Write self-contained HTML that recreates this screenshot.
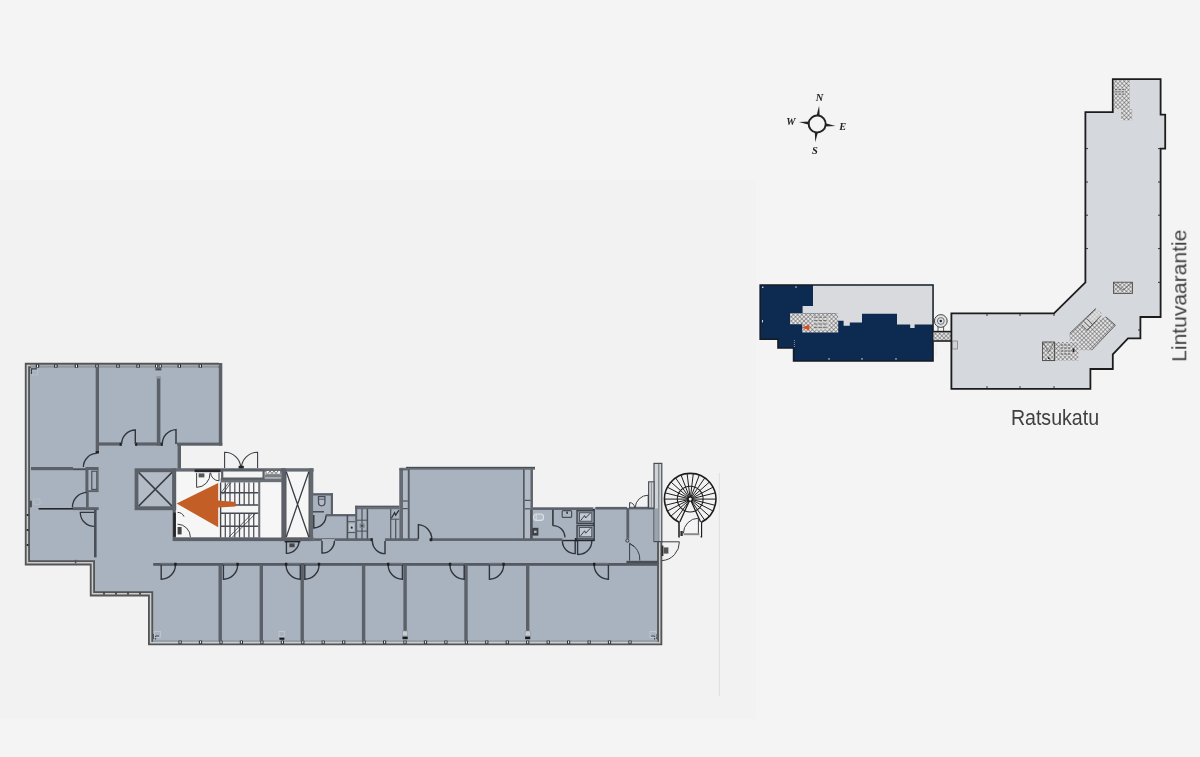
<!DOCTYPE html>
<html lang="fi"><head><meta charset="utf-8"><title>Pohjakuva – Ratsukatu / Lintuvaarantie</title>
<style>html,body{margin:0;padding:0;background:#f4f4f4;}body{width:1200px;height:757px;overflow:hidden}svg{display:block}</style>
</head><body>
<svg width="1200" height="757" viewBox="0 0 1200 757">
<defs>
<pattern id="hx" width="3.0" height="3.0" patternUnits="userSpaceOnUse" patternTransform="rotate(45)">
<rect width="3" height="3" fill="#e6e6e6"/><path d="M0,0H3M0,0V3" stroke="#4a4a4a" stroke-width="0.9"/></pattern>
<filter id="bt" x="-5%" y="-5%" width="110%" height="110%"><feGaussianBlur stdDeviation="0.4"/></filter>
<filter id="bl" x="-2%" y="-2%" width="104%" height="104%"><feGaussianBlur stdDeviation="0.65"/></filter>
</defs>
<rect x="0.0" y="0.0" width="1200.0" height="757.0" fill="#f4f4f4" />
<rect x="0.0" y="180.0" width="756.0" height="539.0" fill="#f2f2f2" />
<line x1="719.3" y1="473.0" x2="719.3" y2="696.0" stroke="#dedede" stroke-width="1" />
<g filter="url(#bl)">
<polygon points="25,363 222,363 222,445.4 181,445.4 181,468.5 313.5,468.5 313.5,493 332.8,493 332.8,514.5 355.5,514.5 355.5,506.3 399.6,506.3 399.6,467.4 533,467.4 533,507.5 654,507.5 654,463 661.8,463 661.8,645 148.7,645 148.7,595.5 90,595.5 90,565 25,565" fill="#a9b3bf"/>
<rect x="175.6" y="470.0" width="106.4" height="68.0" fill="#f6f6f6" />
<rect x="285.5" y="471.0" width="24.0" height="67.0" fill="#f6f6f6" />
<path d="M219,365.4L27.4,365.4L27.4,562.8L92.4,562.8L92.4,593.8L150.6,593.8L150.6,642.7L659.7,642.7L659.7,541.5" stroke="#555" stroke-width="5.2" fill="none" stroke-linejoin="miter" stroke-linecap="butt"/>
<path d="M219,365.4L27.4,365.4L27.4,562.8L92.4,562.8L92.4,593.8L150.6,593.8L150.6,642.7L659.7,642.7L659.7,541.5" stroke="#c9ccd0" stroke-width="1.5" fill="none" stroke-linejoin="miter"/>
<line x1="30.0" y1="365.8" x2="219.0" y2="365.8" stroke="#a4a9af" stroke-width="1.6" />
<line x1="153.0" y1="641.0" x2="657.6" y2="641.0" stroke="#98a0a9" stroke-width="1.9" />
<line x1="31.0" y1="367.2" x2="218.6" y2="367.2" stroke="#98a0a9" stroke-width="1.4" />
<rect x="35.8" y="364.4" width="3.4" height="3.2" fill="#222" />
<rect x="36.9" y="364.8" width="1.2" height="2.4" fill="#f0f0f0" />
<rect x="54.2" y="364.4" width="3.4" height="3.2" fill="#222" />
<rect x="55.3" y="364.8" width="1.2" height="2.4" fill="#f0f0f0" />
<rect x="74.7" y="364.4" width="3.4" height="3.2" fill="#222" />
<rect x="75.8" y="364.8" width="1.2" height="2.4" fill="#f0f0f0" />
<rect x="95.3" y="364.4" width="3.4" height="3.2" fill="#222" />
<rect x="96.4" y="364.8" width="1.2" height="2.4" fill="#f0f0f0" />
<rect x="116.3" y="364.4" width="3.4" height="3.2" fill="#222" />
<rect x="117.4" y="364.8" width="1.2" height="2.4" fill="#f0f0f0" />
<rect x="136.4" y="364.4" width="3.4" height="3.2" fill="#222" />
<rect x="137.5" y="364.8" width="1.2" height="2.4" fill="#f0f0f0" />
<rect x="177.6" y="364.4" width="3.4" height="3.2" fill="#222" />
<rect x="178.7" y="364.8" width="1.2" height="2.4" fill="#f0f0f0" />
<rect x="198.6" y="364.4" width="3.4" height="3.2" fill="#222" />
<rect x="199.7" y="364.8" width="1.2" height="2.4" fill="#f0f0f0" />
<rect x="155.1" y="364.4" width="3.0" height="3.2" fill="#222" />
<rect x="156.0" y="364.8" width="1.2" height="2.4" fill="#f0f0f0" />
<rect x="158.7" y="364.4" width="3.0" height="3.2" fill="#222" />
<rect x="159.6" y="364.8" width="1.2" height="2.4" fill="#f0f0f0" />
<rect x="178.5" y="640.6" width="3.2" height="3.2" fill="#2a2c30" />
<rect x="179.5" y="641.2" width="1.2" height="2.0" fill="#efefef" />
<rect x="198.9" y="640.6" width="3.2" height="3.2" fill="#2a2c30" />
<rect x="199.9" y="641.2" width="1.2" height="2.0" fill="#efefef" />
<rect x="219.4" y="640.6" width="3.2" height="3.2" fill="#2a2c30" />
<rect x="220.4" y="641.2" width="1.2" height="2.0" fill="#efefef" />
<rect x="239.8" y="640.6" width="3.2" height="3.2" fill="#2a2c30" />
<rect x="240.8" y="641.2" width="1.2" height="2.0" fill="#efefef" />
<rect x="260.3" y="640.6" width="3.2" height="3.2" fill="#2a2c30" />
<rect x="261.3" y="641.2" width="1.2" height="2.0" fill="#efefef" />
<rect x="280.8" y="640.6" width="3.2" height="3.2" fill="#2a2c30" />
<rect x="281.8" y="641.2" width="1.2" height="2.0" fill="#efefef" />
<rect x="301.2" y="640.6" width="3.2" height="3.2" fill="#2a2c30" />
<rect x="302.2" y="641.2" width="1.2" height="2.0" fill="#efefef" />
<rect x="321.6" y="640.6" width="3.2" height="3.2" fill="#2a2c30" />
<rect x="322.6" y="641.2" width="1.2" height="2.0" fill="#efefef" />
<rect x="342.1" y="640.6" width="3.2" height="3.2" fill="#2a2c30" />
<rect x="343.1" y="641.2" width="1.2" height="2.0" fill="#efefef" />
<rect x="362.5" y="640.6" width="3.2" height="3.2" fill="#2a2c30" />
<rect x="363.5" y="641.2" width="1.2" height="2.0" fill="#efefef" />
<rect x="383.0" y="640.6" width="3.2" height="3.2" fill="#2a2c30" />
<rect x="384.0" y="641.2" width="1.2" height="2.0" fill="#efefef" />
<rect x="403.4" y="640.6" width="3.2" height="3.2" fill="#2a2c30" />
<rect x="404.4" y="641.2" width="1.2" height="2.0" fill="#efefef" />
<rect x="423.9" y="640.6" width="3.2" height="3.2" fill="#2a2c30" />
<rect x="424.9" y="641.2" width="1.2" height="2.0" fill="#efefef" />
<rect x="444.3" y="640.6" width="3.2" height="3.2" fill="#2a2c30" />
<rect x="445.3" y="641.2" width="1.2" height="2.0" fill="#efefef" />
<rect x="464.8" y="640.6" width="3.2" height="3.2" fill="#2a2c30" />
<rect x="465.8" y="641.2" width="1.2" height="2.0" fill="#efefef" />
<rect x="485.2" y="640.6" width="3.2" height="3.2" fill="#2a2c30" />
<rect x="486.2" y="641.2" width="1.2" height="2.0" fill="#efefef" />
<rect x="505.7" y="640.6" width="3.2" height="3.2" fill="#2a2c30" />
<rect x="506.7" y="641.2" width="1.2" height="2.0" fill="#efefef" />
<rect x="526.1" y="640.6" width="3.2" height="3.2" fill="#2a2c30" />
<rect x="527.1" y="641.2" width="1.2" height="2.0" fill="#efefef" />
<rect x="546.6" y="640.6" width="3.2" height="3.2" fill="#2a2c30" />
<rect x="547.6" y="641.2" width="1.2" height="2.0" fill="#efefef" />
<rect x="567.0" y="640.6" width="3.2" height="3.2" fill="#2a2c30" />
<rect x="568.0" y="641.2" width="1.2" height="2.0" fill="#efefef" />
<rect x="587.5" y="640.6" width="3.2" height="3.2" fill="#2a2c30" />
<rect x="588.5" y="641.2" width="1.2" height="2.0" fill="#efefef" />
<rect x="607.9" y="640.6" width="3.2" height="3.2" fill="#2a2c30" />
<rect x="608.9" y="641.2" width="1.2" height="2.0" fill="#efefef" />
<rect x="628.4" y="640.6" width="3.2" height="3.2" fill="#2a2c30" />
<rect x="629.4" y="641.2" width="1.2" height="2.0" fill="#efefef" />
<rect x="103.2" y="592.6" width="1.6" height="2.0" fill="#333" />
<rect x="115.2" y="592.6" width="1.6" height="2.0" fill="#333" />
<rect x="127.2" y="592.6" width="1.6" height="2.0" fill="#333" />
<rect x="139.2" y="592.6" width="1.6" height="2.0" fill="#333" />
<rect x="26.6" y="514.0" width="2.0" height="2.0" fill="#333" />
<rect x="26.6" y="529.0" width="2.0" height="2.0" fill="#333" />
<rect x="26.6" y="544.0" width="2.0" height="2.0" fill="#333" />
<rect x="218.8" y="363.0" width="3.5" height="82.6" fill="#5b6068" />
<rect x="177.0" y="442.6" width="45.3" height="3.0" fill="#5b6068" />
<rect x="177.6" y="445.0" width="3.4" height="24.0" fill="#5b6068" />
<rect x="95.7" y="367.0" width="3.3" height="86.2" fill="#5b6068" />
<rect x="95.7" y="451.0" width="3.3" height="2.4" fill="#222" />
<rect x="97.0" y="442.4" width="24.6" height="3.2" fill="#5b6068" />
<rect x="119.6" y="442.8" width="2.2" height="3.0" fill="#222" />
<rect x="135.3" y="442.4" width="27.3" height="3.2" fill="#5b6068" />
<rect x="135.1" y="442.8" width="2.1" height="3.0" fill="#222" />
<rect x="160.6" y="442.8" width="2.2" height="3.0" fill="#222" />
<rect x="156.8" y="376.6" width="3.6" height="69.0" fill="#5b6068" />
<rect x="156.8" y="376.0" width="3.6" height="2.5" fill="#8f98a4" />
<rect x="155.4" y="368.2" width="6.0" height="2.2" fill="#4a4e55" />
<path d="M135.3,444.0L135.3,430.0A14.0,14.0 0 0 0 121.6,444.0" stroke="#30343a" stroke-width="1.4" fill="none" />
<path d="M176.0,444.0L176.0,429.6A14.4,14.4 0 0 0 162.3,444.0" stroke="#30343a" stroke-width="1.4" fill="none" />
<path d="M31.6,374V369H37" stroke="#3b3f45" stroke-width="1.4" fill="none" />
<rect x="32.6" y="370" width="5" height="5" fill="none" stroke="#c0c7cf" stroke-width="0.6"/>
<rect x="31.0" y="467.0" width="42.0" height="3.2" fill="#5b6068" />
<rect x="73.0" y="468.3" width="13.0" height="1.9" fill="#4a4f57" />
<rect x="85.4" y="467.0" width="13.2" height="25.1" fill="#5b6068" />
<rect x="88.4" y="470.0" width="9.0" height="20.2" fill="#a9b3bf" />
<rect x="91.8" y="471.2" width="5" height="18.2" fill="#a9b3bf" stroke="#474b52" stroke-width="1.1"/>
<path d="M97,453.4A13.6,13.6 0 0 0 83.4,467" stroke="#30343a" stroke-width="1.4" fill="none" />
<rect x="86.0" y="492.0" width="2.7" height="15.4" fill="#5b6068" />
<path d="M86.6,492.4A15,15 0 0 0 72.4,507.4" stroke="#30343a" stroke-width="1.4" fill="none" />
<rect x="38.5" y="508.0" width="35.5" height="1.6" fill="#26282c" />
<rect x="72.9" y="507.2" width="25.7" height="2.9" fill="#5b6068" />
<path d="M94,512.4H80.3A14,14 0 0 0 94.3,526.4" stroke="#30343a" stroke-width="1.3" fill="none" />
<rect x="94.0" y="510.0" width="2.6" height="47.4" fill="#4b5058" />
<rect x="29.9" y="500.7" width="2.0" height="6.6" fill="#4b5058" />
<rect x="34" y="499" width="6" height="5.4" fill="none" stroke="#bcc4cd" stroke-width="0.6"/>
<rect x="74.8" y="559.8" width="1.6" height="3.6" fill="#555" />
<rect x="134.6" y="468.3" width="41.6" height="41.9" fill="#5b6068" />
<rect x="138.4" y="472.2" width="33.8" height="34.1" fill="#b3bcc6" />
<path d="M138.6,472.4L172,506.1M172,472.4L138.6,506.1" stroke="#3b3f45" stroke-width="1.5" fill="none" />
<rect x="172.6" y="468.3" width="3.1" height="72.7" fill="#5b6068" />
<rect x="176.0" y="468.3" width="137.6" height="3.3" fill="#666b72" />
<rect x="173.0" y="537.3" width="140.6" height="3.8" fill="#5b6068" />
<rect x="281.2" y="468.3" width="4.6" height="72.7" fill="#5b6068" />
<rect x="309.2" y="468.3" width="3.9" height="72.7" fill="#62676e" />
<path d="M286.3,471.8L308.8,537M308.8,471.8L286.3,537" stroke="#3b3f45" stroke-width="1.3" fill="none" />
<line x1="286.0" y1="471.6" x2="286.0" y2="537.2" stroke="#333" stroke-width="0.8" />
<line x1="309.0" y1="471.6" x2="309.0" y2="537.2" stroke="#333" stroke-width="0.8" />
<rect x="220.6" y="478.4" width="61.4" height="4.0" fill="#6a6f76" />
<rect x="222.2" y="470.4" width="41.4" height="8.2" fill="#f4f4f4" stroke="#5a5f66" stroke-width="2.2"/>
<rect x="264.6" y="474.6" width="16.8" height="3.0" fill="#7a7f86" />
<rect x="266" y="470.6" width="14.6" height="3.6" fill="#f4f4f4" stroke="#555" stroke-width="0.7"/>
<path d="M268,473.6L270,471L272,473.6L274,471L276,473.6L278,471" stroke="#3b3f45" stroke-width="0.7" fill="none" />
<path d="M220.6,482.4V537.4M220.6,505H258.4M220.6,513.3H258.4M220.6,492.7H258.4M220.6,526.2H258.4" stroke="#44484e" stroke-width="1.4" fill="none" />
<rect x="258.2" y="481.0" width="2.2" height="56.4" fill="#6a6f76" />
<line x1="225.3" y1="482.4" x2="225.3" y2="505.0" stroke="#4a4e55" stroke-width="1.25" />
<line x1="225.3" y1="513.3" x2="225.3" y2="537.4" stroke="#4a4e55" stroke-width="1.25" />
<line x1="230.0" y1="482.4" x2="230.0" y2="505.0" stroke="#4a4e55" stroke-width="1.25" />
<line x1="230.0" y1="513.3" x2="230.0" y2="537.4" stroke="#4a4e55" stroke-width="1.25" />
<line x1="234.8" y1="482.4" x2="234.8" y2="505.0" stroke="#4a4e55" stroke-width="1.25" />
<line x1="234.8" y1="513.3" x2="234.8" y2="537.4" stroke="#4a4e55" stroke-width="1.25" />
<line x1="239.5" y1="482.4" x2="239.5" y2="505.0" stroke="#4a4e55" stroke-width="1.25" />
<line x1="239.5" y1="513.3" x2="239.5" y2="537.4" stroke="#4a4e55" stroke-width="1.25" />
<line x1="244.2" y1="482.4" x2="244.2" y2="505.0" stroke="#4a4e55" stroke-width="1.25" />
<line x1="244.2" y1="513.3" x2="244.2" y2="537.4" stroke="#4a4e55" stroke-width="1.25" />
<line x1="248.9" y1="482.4" x2="248.9" y2="505.0" stroke="#4a4e55" stroke-width="1.25" />
<line x1="248.9" y1="513.3" x2="248.9" y2="537.4" stroke="#4a4e55" stroke-width="1.25" />
<line x1="253.7" y1="482.4" x2="253.7" y2="505.0" stroke="#4a4e55" stroke-width="1.25" />
<line x1="253.7" y1="513.3" x2="253.7" y2="537.4" stroke="#4a4e55" stroke-width="1.25" />
<path d="M220.8,493L229,482.4M222.4,494.4L231,482.4" stroke="#3b3f45" stroke-width="0.8" fill="none" />
<path d="M229,537L252,513.6M232.5,537L255.5,513.6" stroke="#3b3f45" stroke-width="0.8" fill="none" />
<rect x="260.6" y="482.4" width="20.6" height="54.9" fill="#f6f6f6" />
<rect x="194.6" y="469.4" width="26.0" height="2.8" fill="#26282c" />
<path d="M196.6,473V487.4A13.6,13.6 0 0 0 210,473" stroke="#3b3f45" stroke-width="1.0" fill="none" />
<path d="M210.6,472.6A8.5,8.5 0 0 0 219,480.8V472.6" stroke="#3b3f45" stroke-width="1.0" fill="none" />
<rect x="198.6" y="473.4" width="5.8" height="4.0" fill="#555" />
<rect x="173.2" y="512.6" width="2.7" height="24.2" fill="#26282c" />
<path d="M177.6,512.4A7,7 0 0 1 184,516.6M177.6,524.2A13,13 0 0 1 190.4,537.2" stroke="#3b3f45" stroke-width="1.0" fill="none" />
<rect x="177.6" y="527.0" width="4.0" height="7.4" fill="#444" />
<polygon points="176.6,503.4 218.2,483 218.2,500.6 235.6,502 235.6,506.4 218.2,507.6 218.2,527.2" fill="#c35f25"/>
<path d="M224.6,468V452.2A16.2,16.2 0 0 1 240.8,468M257.6,468V452.2A16.2,16.2 0 0 0 241.4,468" stroke="#3b3f45" stroke-width="1.1" fill="none" />
<rect x="238.6" y="465.8" width="5.2" height="2.6" fill="#222" />
<rect x="313.0" y="493.3" width="20.0" height="2.2" fill="#5b6068" />
<rect x="330.8" y="493.3" width="2.2" height="22.7" fill="#5b6068" />
<rect x="325.6" y="514.1" width="30.4" height="2.2" fill="#5b6068" />
<line x1="313.0" y1="511.8" x2="324.0" y2="511.8" stroke="#3f444a" stroke-width="1.4" />
<path d="M318.5,496.6H324.9V502.6A3.2,3.2 0 0 1 318.5,502.6Z" stroke="#4a4e55" stroke-width="1.3" fill="#b3bcc7" />
<line x1="318.5" y1="499.2" x2="324.9" y2="499.2" stroke="#4a4e55" stroke-width="0.9" />
<path d="M313.8,515.0V528A12.4,12.4 0 0 0 326,515.8" stroke="#30343a" stroke-width="1.4" fill="none" />
<rect x="346.6" y="515.0" width="1.6" height="24.0" fill="#4b5058" />
<rect x="355.2" y="505.8" width="44.8" height="3.4" fill="#6a6f76" />
<rect x="355.2" y="505.8" width="44.8" height="1.0" fill="#4f545b" />
<rect x="355.2" y="505.8" width="2.0" height="33.8" fill="#5b6068" />
<line x1="362.0" y1="509.0" x2="362.0" y2="539.0" stroke="#4b5058" stroke-width="1.2" />
<line x1="367.4" y1="509.0" x2="367.4" y2="539.0" stroke="#4b5058" stroke-width="1.5" />
<line x1="357.0" y1="520.2" x2="367.4" y2="520.2" stroke="#4b5058" stroke-width="1.0" />
<line x1="357.0" y1="531.1" x2="367.4" y2="531.1" stroke="#4b5058" stroke-width="1.0" />
<rect x="359.6" y="523.6" width="5.0" height="4.2" fill="#7b838d" />
<rect x="361.2" y="524.8" width="1.6" height="1.8" fill="#2c2f34" />
<line x1="347.4" y1="521.7" x2="355.2" y2="521.7" stroke="#4b5058" stroke-width="1.0" />
<line x1="347.4" y1="532.6" x2="355.2" y2="532.6" stroke="#4b5058" stroke-width="1.0" />
<rect x="349" y="523.8" width="5" height="7" rx="1.6" fill="#bcc5ce"/>
<rect x="350.8" y="526.6" width="1.8" height="2.0" fill="#222" />
<line x1="390.7" y1="509.0" x2="390.7" y2="539.0" stroke="#4b5058" stroke-width="1.2" />
<line x1="395.7" y1="519.2" x2="395.7" y2="539.0" stroke="#4b5058" stroke-width="1.2" />
<line x1="390.7" y1="519.2" x2="399.6" y2="519.2" stroke="#4b5058" stroke-width="1.0" />
<path d="M391.4,518.2L394.6,512.6L395.6,515.2L399,510.2" stroke="#2c2f34" stroke-width="1.2" fill="none" />
<rect x="399.4" y="468.3" width="10.3" height="71.3" fill="#b1bac5" />
<rect x="399.4" y="468.3" width="3.6" height="71.3" fill="#666b72" />
<rect x="407.8" y="468.3" width="1.9" height="71.3" fill="#555a62" />
<rect x="399.4" y="468.3" width="10.3" height="2.0" fill="#5a5f66" />
<line x1="403.0" y1="501.0" x2="407.8" y2="501.0" stroke="#4d5259" stroke-width="1.2" />
<line x1="403.0" y1="508.6" x2="407.8" y2="508.6" stroke="#4d5259" stroke-width="1.2" />
<rect x="523.0" y="468.3" width="9.9" height="71.3" fill="#b1bac5" />
<rect x="523.0" y="468.3" width="1.7" height="71.3" fill="#555a62" />
<rect x="530.5" y="468.3" width="2.4" height="71.3" fill="#5e636a" />
<line x1="524.7" y1="500.4" x2="530.5" y2="500.4" stroke="#4d5259" stroke-width="1.2" />
<line x1="524.7" y1="508.8" x2="530.5" y2="508.8" stroke="#4d5259" stroke-width="1.2" />
<rect x="406.0" y="466.9" width="129.0" height="2.8" fill="#666b72" />
<rect x="406.0" y="466.9" width="129.0" height="1.1" fill="#4a4e55" />
<rect x="313.6" y="538.3" width="8.4" height="2.6" fill="#5b6068" />
<rect x="334.4" y="538.3" width="38.0" height="2.6" fill="#5b6068" />
<rect x="385.0" y="538.3" width="33.4" height="2.6" fill="#5b6068" />
<rect x="431.8" y="538.3" width="130.6" height="2.6" fill="#5b6068" />
<rect x="562.4" y="539.8" width="32.2" height="1.4" fill="#26282c" />
<rect x="574.8" y="538.0" width="2.8" height="3.4" fill="#26282c" />
<line x1="322.0" y1="538.6" x2="334.4" y2="538.6" stroke="#666b73" stroke-width="1.0" />
<path d="M322.0,541.0L322.0,553.0A12.0,12.0 0 0 0 334.4,541.0" stroke="#30343a" stroke-width="1.4" fill="none" />
<path d="M385.0,541.0L385.0,553.6A12.6,12.6 0 0 1 372.4,541.0" stroke="#30343a" stroke-width="1.4" fill="none" />
<path d="M418.4,539.0L418.4,524.6A14.4,14.4 0 0 1 431.8,539.0" stroke="#30343a" stroke-width="1.4" fill="none" />
<path d="M286.4,541.0L286.4,553.4A12.4,12.4 0 0 0 299.0,541.0" stroke="#30343a" stroke-width="1.4" fill="none" />
<rect x="289.4" y="543.4" width="5.2" height="3.8" fill="#444" />
<rect x="284.6" y="541.0" width="15.8" height="1.4" fill="#222" />
<path d="M575.2,541.0L575.2,553.6A12.6,12.6 0 0 1 562.4,541.0" stroke="#30343a" stroke-width="1.4" fill="none" />
<path d="M577.6,541.0L577.6,554.4A13.4,13.4 0 0 0 591.8,541.0" stroke="#30343a" stroke-width="1.4" fill="none" />
<rect x="429.6" y="538.2" width="2.6" height="3.0" fill="#222" />
<rect x="370.6" y="538.2" width="2.2" height="3.0" fill="#222" />
<rect x="533.0" y="507.4" width="60.0" height="2.5" fill="#5b6068" />
<rect x="595.4" y="506.9" width="31.6" height="2.6" fill="#5b6068" />
<rect x="592.9" y="509.0" width="1.8" height="32.0" fill="#26282c" />
<line x1="552.9" y1="509.8" x2="552.9" y2="525.8" stroke="#33373d" stroke-width="1.6" />
<path d="M552.9,525.6A11.8,11.8 0 0 1 564.9,537.6" stroke="#33373d" stroke-width="1.3" fill="none" />
<rect x="577" y="510.6" width="17.2" height="12.8" fill="#8e98a5" stroke="#3f444a" stroke-width="1.4"/>
<rect x="579.4" y="512.8000000000001" width="12.4" height="8.4" fill="#c3cad2" stroke="#3f444a" stroke-width="0.8"/>
<path d="M580.6,520.6L584.6,515.6L585.6,518.0L590.4,513.0" stroke="#3b3f45" stroke-width="1.0" fill="none" />
<rect x="577" y="525.4" width="17.2" height="13.6" fill="#8e98a5" stroke="#3f444a" stroke-width="1.4"/>
<rect x="579.4" y="527.6" width="12.4" height="9.2" fill="#c3cad2" stroke="#3f444a" stroke-width="0.8"/>
<path d="M580.6,535.8000000000001L584.6,530.8000000000001L585.6,533.2L590.4,528.2" stroke="#3b3f45" stroke-width="1.0" fill="none" />
<rect x="533.6" y="514" width="10" height="6.4" rx="3" fill="#b3bcc7" stroke="#dde1e6" stroke-width="1.1"/>
<line x1="536.2" y1="514.4" x2="536.2" y2="520.0" stroke="#dde1e6" stroke-width="0.9" />
<rect x="530.2" y="509.8" width="1.6" height="28.6" fill="#4a4e55" />
<rect x="532.2" y="527.8" width="6.2" height="7.8" fill="#3d4147" />
<rect x="534.0" y="530.6" width="2.6" height="2.4" fill="#aab3be" />
<rect x="562.2" y="510.6" width="9.4" height="6.8" rx="1" fill="#adb7c2" stroke="#4a4f56" stroke-width="1.2"/>
<rect x="566.4" y="511.6" width="1.4" height="2.2" fill="#222" />
<rect x="626.4" y="508.0" width="2.8" height="30.6" fill="#5b6068" />
<rect x="626.4" y="560.8" width="31.6" height="4.0" fill="#4a4e55" />
<rect x="629.0" y="506.8" width="25.4" height="2.6" fill="#5b6068" />
<circle cx="627.4" cy="540.6" r="1.6" fill="none" stroke="#333" stroke-width="0.9"/>
<path d="M629.6,543.4L634,546.6M629.6,543.4V560.6M629.6,543.4A17.2,17.2 0 0 1 639.8,560.6" stroke="#3b3f45" stroke-width="1.0" fill="none" />
<rect x="654.0" y="463.4" width="7.8" height="78.2" fill="#d0d4d8" stroke="#4a4e54" stroke-width="1.2"/>
<line x1="658.8" y1="464.0" x2="658.8" y2="541.0" stroke="#6a6f76" stroke-width="1.0" />
<rect x="654.6" y="508.4" width="3.8" height="32.6" fill="#9aa4b0" />
<rect x="648.6" y="481.8" width="5.4" height="26.2" fill="#d0d4d8" stroke="#4a4e54" stroke-width="1.1"/>
<line x1="651.4" y1="482.4" x2="651.4" y2="508.0" stroke="#7a7f86" stroke-width="0.8" />
<path d="M648.2,507.6V495.2A13,13 0 0 0 635.2,507.6" stroke="#3b3f45" stroke-width="1.0" fill="none" />
<path d="M629.6,507.6V502.6A5,5 0 0 1 634.6,507.6" stroke="#3b3f45" stroke-width="1.0" fill="none" />
<path d="M662,541.8H679.4A18.6,18.6 0 0 1 662,560.6" stroke="#3b3f45" stroke-width="1.0" fill="none" />
<rect x="661.4" y="545.6" width="2.0" height="10.4" fill="#333" />
<rect x="663.6" y="547.4" width="4.8" height="6.2" fill="#555" />
<rect x="153.2" y="563.0" width="504.8" height="2.8" fill="#555a62" />
<rect x="218.5" y="565.0" width="3.4" height="76.2" fill="#5b6068" />
<rect x="259.6" y="565.0" width="3.4" height="76.2" fill="#5b6068" />
<rect x="300.5" y="565.0" width="3.4" height="76.2" fill="#5b6068" />
<rect x="361.9" y="565.0" width="3.4" height="76.2" fill="#5b6068" />
<rect x="464.3" y="565.0" width="3.4" height="76.2" fill="#5b6068" />
<rect x="403.4" y="565.0" width="3.4" height="66.0" fill="#5b6068" />
<rect x="402.5" y="631" width="5.2" height="5" fill="#c6ccd3" stroke="#8a929c" stroke-width="0.6"/>
<rect x="402.5" y="636.6" width="5.2" height="2.6" fill="#1e1e1e" />
<rect x="526.0" y="565.0" width="3.4" height="66.0" fill="#5b6068" />
<rect x="525.1" y="631" width="5.2" height="5" fill="#c6ccd3" stroke="#8a929c" stroke-width="0.6"/>
<rect x="525.1" y="636.6" width="5.2" height="2.6" fill="#1e1e1e" />
<rect x="279.4" y="637.6" width="5.0" height="2.2" fill="#1e1e1e" />
<rect x="279" y="631.4" width="5.6" height="5" fill="none" stroke="#c6ccd3" stroke-width="0.7"/>
<path d="M161.2,565.0L161.2,579.2A14.2,14.2 0 0 0 175.4,565.0" stroke="#30343a" stroke-width="1.4" fill="none" />
<rect x="161.0" y="562.8" width="14.6" height="1.4" fill="#6a7079" />
<rect x="174.2" y="562.8" width="2.4" height="2.8" fill="#1e1e1e" />
<path d="M223.4,565.0L223.4,579.2A14.2,14.2 0 0 0 237.6,565.0" stroke="#30343a" stroke-width="1.4" fill="none" />
<rect x="223.2" y="562.8" width="14.6" height="1.4" fill="#6a7079" />
<rect x="236.4" y="562.8" width="2.4" height="2.8" fill="#1e1e1e" />
<path d="M300.3,565.0L300.3,579.2A14.2,14.2 0 0 1 286.1,565.0" stroke="#30343a" stroke-width="1.4" fill="none" />
<rect x="285.9" y="562.8" width="14.6" height="1.4" fill="#6a7079" />
<rect x="284.9" y="562.8" width="2.4" height="2.8" fill="#1e1e1e" />
<path d="M304.8,565.0L304.8,579.2A14.2,14.2 0 0 0 319.0,565.0" stroke="#30343a" stroke-width="1.4" fill="none" />
<rect x="304.6" y="562.8" width="14.6" height="1.4" fill="#6a7079" />
<rect x="317.8" y="562.8" width="2.4" height="2.8" fill="#1e1e1e" />
<path d="M402.4,565.0L402.4,579.2A14.2,14.2 0 0 1 388.2,565.0" stroke="#30343a" stroke-width="1.4" fill="none" />
<rect x="388.0" y="562.8" width="14.6" height="1.4" fill="#6a7079" />
<rect x="387.0" y="562.8" width="2.4" height="2.8" fill="#1e1e1e" />
<path d="M464.2,565.0L464.2,579.2A14.2,14.2 0 0 1 450.0,565.0" stroke="#30343a" stroke-width="1.4" fill="none" />
<rect x="449.8" y="562.8" width="14.6" height="1.4" fill="#6a7079" />
<rect x="448.8" y="562.8" width="2.4" height="2.8" fill="#1e1e1e" />
<path d="M489.4,565.0L489.4,579.2A14.2,14.2 0 0 0 503.6,565.0" stroke="#30343a" stroke-width="1.4" fill="none" />
<rect x="489.2" y="562.8" width="14.6" height="1.4" fill="#6a7079" />
<rect x="502.4" y="562.8" width="2.4" height="2.8" fill="#1e1e1e" />
<path d="M608.4,565.0L608.4,579.2A14.2,14.2 0 0 1 594.2,565.0" stroke="#30343a" stroke-width="1.4" fill="none" />
<rect x="594.0" y="562.8" width="14.6" height="1.4" fill="#6a7079" />
<rect x="593.0" y="562.8" width="2.4" height="2.8" fill="#1e1e1e" />
<path d="M153.6,639V634M155.6,639.6V636H159" stroke="#3b3f45" stroke-width="0.9" fill="none" />
<path d="M656.4,639V634M654.6,639.6V636H651" stroke="#3b3f45" stroke-width="0.9" fill="none" />
<rect x="154.6" y="631.4" width="6" height="6" fill="none" stroke="#c6ccd3" stroke-width="0.7"/>
<rect x="650" y="631.4" width="6" height="6" fill="none" stroke="#c6ccd3" stroke-width="0.7"/>
<path d="M701.4,522.2A25.7,25.7 0 1 0 679.0,522.2V537.6M701.4,522.2V537.6" stroke="#1e1e1e" stroke-width="1.55" fill="none" />
<circle cx="690.2" cy="499.1" r="12.9" fill="none" stroke="#1e1e1e" stroke-width="1.1"/>
<line x1="690.2" y1="499.1" x2="715.9" y2="499.1" stroke="#1e1e1e" stroke-width="1.0" />
<line x1="690.2" y1="499.1" x2="715.2" y2="505.3" stroke="#1e1e1e" stroke-width="1.0" />
<line x1="690.2" y1="499.1" x2="713.0" y2="511.0" stroke="#1e1e1e" stroke-width="1.0" />
<line x1="690.2" y1="499.1" x2="709.4" y2="516.1" stroke="#1e1e1e" stroke-width="1.0" />
<line x1="690.2" y1="499.1" x2="704.8" y2="520.3" stroke="#1e1e1e" stroke-width="1.0" />
<line x1="690.2" y1="499.1" x2="675.6" y2="520.3" stroke="#1e1e1e" stroke-width="1.0" />
<line x1="690.2" y1="499.1" x2="671.0" y2="516.1" stroke="#1e1e1e" stroke-width="1.0" />
<line x1="690.2" y1="499.1" x2="667.4" y2="511.0" stroke="#1e1e1e" stroke-width="1.0" />
<line x1="690.2" y1="499.1" x2="665.2" y2="505.3" stroke="#1e1e1e" stroke-width="1.0" />
<line x1="690.2" y1="499.1" x2="664.5" y2="499.1" stroke="#1e1e1e" stroke-width="1.0" />
<line x1="690.2" y1="499.1" x2="665.2" y2="492.9" stroke="#1e1e1e" stroke-width="1.0" />
<line x1="690.2" y1="499.1" x2="667.4" y2="487.2" stroke="#1e1e1e" stroke-width="1.0" />
<line x1="690.2" y1="499.1" x2="671.0" y2="482.1" stroke="#1e1e1e" stroke-width="1.0" />
<line x1="690.2" y1="499.1" x2="675.6" y2="477.9" stroke="#1e1e1e" stroke-width="1.0" />
<line x1="690.2" y1="499.1" x2="681.1" y2="475.1" stroke="#1e1e1e" stroke-width="1.0" />
<line x1="690.2" y1="499.1" x2="687.1" y2="473.6" stroke="#1e1e1e" stroke-width="1.0" />
<line x1="690.2" y1="499.1" x2="693.3" y2="473.6" stroke="#1e1e1e" stroke-width="1.0" />
<line x1="690.2" y1="499.1" x2="699.3" y2="475.1" stroke="#1e1e1e" stroke-width="1.0" />
<line x1="690.2" y1="499.1" x2="704.8" y2="477.9" stroke="#1e1e1e" stroke-width="1.0" />
<line x1="690.2" y1="499.1" x2="709.4" y2="482.1" stroke="#1e1e1e" stroke-width="1.0" />
<line x1="690.2" y1="499.1" x2="713.0" y2="487.2" stroke="#1e1e1e" stroke-width="1.0" />
<line x1="690.2" y1="499.1" x2="715.2" y2="492.9" stroke="#1e1e1e" stroke-width="1.0" />
<rect x="680.0" y="517.6" width="21.0" height="18.4" fill="#f4f4f4" />
<path d="M690.2,499.1L679.8,522M690.2,499.1L700.6,522" stroke="#1e1e1e" stroke-width="1.3" fill="none" />
<circle cx="690.2" cy="499.1" r="2.1" fill="#f3f3f3" stroke="#111" stroke-width="1.1"/>
<path d="M683.4,533.4A15.2,15.2 0 0 1 698.4,518.2V533.6" stroke="#3b3f45" stroke-width="1.0" fill="none" />
<rect x="683.6" y="533.2" width="15.8" height="2.0" fill="#8a8a8a" />
<rect x="680.4" y="531.0" width="2.4" height="5.0" fill="#333" />
<polygon points="760.2,285 933,285 933,361 793.6,361 793.6,348 778,348 778,339.2 760.2,339.2" fill="#0f2c51" stroke="#141a24" stroke-width="1.6"/>
<polygon points="813,285.8 932.3,285.8 932.3,324.4 914.6,324.4 914.6,328 910.2,328 910.2,324.4 897,324.4 897,313.8 862,313.8 862,322.6 849.8,322.6 849.8,325.8 843.6,325.8 843.6,320.8 836,320.8 836,313 802.6,313 802.6,306 813,306" fill="#d8dadd"/>
<polygon points="790,313.2 838.2,313.2 838.2,332.6 802.2,332.6 802.2,324.2 790,324.2" fill="url(#hx)"/>
<rect x="813.0" y="316.0" width="16.0" height="14.0" fill="#d9d9d9" opacity="0.55"/>
<line x1="814.0" y1="317.2" x2="828.0" y2="317.2" stroke="#444" stroke-width="0.7" stroke-dasharray="3.4,1.2"/>
<line x1="814.0" y1="320.6" x2="828.0" y2="320.6" stroke="#444" stroke-width="0.7" stroke-dasharray="3.4,1.2"/>
<line x1="814.0" y1="324.0" x2="828.0" y2="324.0" stroke="#444" stroke-width="0.7" stroke-dasharray="3.4,1.2"/>
<line x1="814.0" y1="327.4" x2="828.0" y2="327.4" stroke="#444" stroke-width="0.7" stroke-dasharray="3.4,1.2"/>
<polygon points="802.2,327.6 809.2,324.6 809.2,330.6" fill="#e2481c"/>
<rect x="795.5" y="286.2" width="1.0" height="1.8" fill="#cfd6e0" />
<rect x="828.5" y="286.2" width="1.0" height="1.8" fill="#cfd6e0" />
<rect x="861.5" y="286.2" width="1.0" height="1.8" fill="#cfd6e0" />
<rect x="895.5" y="286.2" width="1.0" height="1.8" fill="#cfd6e0" />
<rect x="828.5" y="358.0" width="1.0" height="1.8" fill="#cfd6e0" />
<rect x="861.5" y="358.0" width="1.0" height="1.8" fill="#cfd6e0" />
<rect x="895.5" y="358.0" width="1.0" height="1.8" fill="#cfd6e0" />
<rect x="762.0" y="320.0" width="1.0" height="2.4" fill="#cfd6e0" />
<rect x="762.0" y="286.6" width="1.4" height="1.4" fill="#cfd6e0" />
<line x1="794.4" y1="340.0" x2="794.4" y2="348.0" stroke="#cfd6e0" stroke-width="0.6" stroke-dasharray="1,1"/>
<rect x="933.6" y="332.4" width="17.4" height="8.0" fill="url(#hx)" />
<line x1="933.6" y1="331.6" x2="951.6" y2="331.6" stroke="#1a1a1a" stroke-width="1.6" />
<line x1="933.6" y1="341.0" x2="951.6" y2="341.0" stroke="#1a1a1a" stroke-width="1.6" />
<circle cx="940.8" cy="321" r="6.4" fill="#dfe1e3" stroke="#333" stroke-width="0.9"/>
<circle cx="940.8" cy="321" r="3.4" fill="none" stroke="#444" stroke-width="0.7"/>
<circle cx="940.8" cy="321" r="1.2" fill="#1a2a44"/>
<path d="M938,326.6V331M943.6,326.6V331" stroke="#333" stroke-width="0.8" fill="none" />
<line x1="936.0" y1="345.0" x2="936.0" y2="357.0" stroke="#d9dbdd" stroke-width="0.8" stroke-dasharray="1,1.4"/>
<polygon points="951.4,388.8 951.4,313.4 1054,313.4 1085.4,282.4 1085.4,112.2 1112.8,112.2 1112.8,79.2 1160.6,79.2 1160.6,114.6 1165.2,114.6 1165.2,148.6 1160.6,148.6 1160.6,317 1140.4,317 1140.4,338.4 1128,338.4 1112.8,354.4 1112.8,369 1090.4,369 1090.4,388.8" fill="#d5d8dc" stroke="#1c1c1c" stroke-width="1.8" stroke-linejoin="miter"/>
<line x1="987.0" y1="313.4" x2="987.0" y2="316.0" stroke="#222" stroke-width="0.9" />
<line x1="987.0" y1="388.8" x2="987.0" y2="386.2" stroke="#222" stroke-width="0.9" />
<line x1="1020.0" y1="313.4" x2="1020.0" y2="316.0" stroke="#222" stroke-width="0.9" />
<line x1="1020.0" y1="388.8" x2="1020.0" y2="386.2" stroke="#222" stroke-width="0.9" />
<line x1="1054.0" y1="313.4" x2="1054.0" y2="316.0" stroke="#222" stroke-width="0.9" />
<line x1="1054.0" y1="388.8" x2="1054.0" y2="386.2" stroke="#222" stroke-width="0.9" />
<line x1="1085.4" y1="148.6" x2="1088.0" y2="148.6" stroke="#222" stroke-width="0.9" />
<line x1="1160.6" y1="148.6" x2="1158.0" y2="148.6" stroke="#222" stroke-width="0.9" />
<line x1="1085.4" y1="182.0" x2="1088.0" y2="182.0" stroke="#222" stroke-width="0.9" />
<line x1="1160.6" y1="182.0" x2="1158.0" y2="182.0" stroke="#222" stroke-width="0.9" />
<line x1="1085.4" y1="215.2" x2="1088.0" y2="215.2" stroke="#222" stroke-width="0.9" />
<line x1="1160.6" y1="215.2" x2="1158.0" y2="215.2" stroke="#222" stroke-width="0.9" />
<line x1="1085.4" y1="248.6" x2="1088.0" y2="248.6" stroke="#222" stroke-width="0.9" />
<line x1="1160.6" y1="248.6" x2="1158.0" y2="248.6" stroke="#222" stroke-width="0.9" />
<line x1="1160.6" y1="282.4" x2="1158.0" y2="282.4" stroke="#222" stroke-width="0.9" />
<line x1="1140.4" y1="330.0" x2="1138.0" y2="330.0" stroke="#222" stroke-width="0.9" />
<rect x="952.4" y="341" width="5" height="8" fill="#d0d3d6" stroke="#777" stroke-width="0.7"/>
<polygon points="1113.8,80 1129.8,80 1129.8,109 1132.2,109 1132.2,120.2 1121,120.2 1121,109 1113.8,109" fill="url(#hx)"/>
<rect x="1114.6" y="88.0" width="11.4" height="8.0" fill="#d9d9d9" opacity="0.5"/>
<line x1="1115.0" y1="89.4" x2="1126.0" y2="89.4" stroke="#444" stroke-width="0.7" stroke-dasharray="2.4,1"/>
<line x1="1115.0" y1="91.8" x2="1126.0" y2="91.8" stroke="#444" stroke-width="0.7" stroke-dasharray="2.4,1"/>
<line x1="1115.0" y1="94.2" x2="1126.0" y2="94.2" stroke="#444" stroke-width="0.7" stroke-dasharray="2.4,1"/>
<rect x="1113.4" y="282.2" width="19.2" height="11.2" fill="url(#hx)" />
<rect x="1113.4" y="282.2" width="19.2" height="11.2" fill="none" stroke="#444" stroke-width="0.8"/>
<path d="M1114,283L1123,290L1132,283" stroke="#555" stroke-width="0.7" fill="none" />
<rect x="1042.6" y="342.0" width="35.8" height="18.6" fill="url(#hx)" />
<rect x="1042.6" y="342" width="12" height="18.6" fill="none" stroke="#444" stroke-width="0.9"/>
<path d="M1043,342.4L1048.6,352L1054,342.4" stroke="#555" stroke-width="0.7" fill="none" />
<rect x="1060.0" y="343.4" width="11.0" height="12.6" fill="#dcdcdc" opacity="0.55"/>
<line x1="1060.6" y1="345.0" x2="1070.6" y2="345.0" stroke="#333" stroke-width="0.8" stroke-dasharray="2.6,1"/>
<line x1="1060.6" y1="348.0" x2="1070.6" y2="348.0" stroke="#333" stroke-width="0.8" stroke-dasharray="2.6,1"/>
<line x1="1060.6" y1="351.0" x2="1070.6" y2="351.0" stroke="#333" stroke-width="0.8" stroke-dasharray="2.6,1"/>
<line x1="1060.6" y1="354.0" x2="1070.6" y2="354.0" stroke="#333" stroke-width="0.8" stroke-dasharray="2.6,1"/>
<rect x="1072.6" y="348.4" width="1.8" height="3.6" fill="#222" />
<rect x="1048.0" y="357.4" width="1.6" height="1.6" fill="#222" />
<polygon points="1069.6,333.6 1095.8,308.4 1102,313.6 1094,322 1105.8,316.8 1115.4,325.2 1091.6,350.2 1079.2,350.2 1079.2,341 1069.6,341" fill="url(#hx)"/>
<polygon points="1081,324.4 1096.6,309.6 1101.4,314 1086.6,329.6" fill="#dddddd" opacity="0.7"/>
<path d="M1081.4,324.6L1087,330.4L1101,315.6M1084,321.6L1089.4,327M1087,318.8L1092.2,324" stroke="#333" stroke-width="0.8" fill="none" />
<path d="M1069.6,333.6L1095.8,308.4M1105.8,316.8L1115.4,325.2L1091.6,350.2" stroke="#444" stroke-width="0.8" fill="none" />
</g>
<g filter="url(#bt)">
<text x="1010.9" y="424.6" font-size="21.2" fill="#404040" font-family="Liberation Sans, Arial, sans-serif" textLength="88.2" lengthAdjust="spacingAndGlyphs">Ratsukatu</text>
<text transform="translate(1186.3,361.8) rotate(-90)" font-size="20.9" fill="#404040" font-family="Liberation Sans, Arial, sans-serif" textLength="132.2" lengthAdjust="spacingAndGlyphs">Lintuvaarantie</text>
</g>
<g filter="url(#bl)">
<g transform="rotate(6 817.2 124)">
<polygon points="817.2,105.6 818.9,116 815.6,116" fill="#222"/>
<polygon points="817.2,142.4 818.8,132 815.6,132" fill="#222"/>
<polygon points="798.8,124 809,122.4 809,125.6" fill="#222"/>
<polygon points="835.6,124 825.4,122.4 825.4,125.6" fill="#222"/>
<circle cx="817.2" cy="124" r="8.5" fill="#f4f4f4" stroke="#222" stroke-width="1.9"/>
</g>
<text x="819.4" y="101.4" font-size="10.4" fill="#222" text-anchor="middle" font-family="Liberation Serif, serif" font-style="italic" font-weight="bold">N</text>
<text x="790.8" y="125.4" font-size="10.4" fill="#222" text-anchor="middle" font-family="Liberation Serif, serif" font-style="italic" font-weight="bold">W</text>
<text x="842.6" y="130.4" font-size="10.4" fill="#222" text-anchor="middle" font-family="Liberation Serif, serif" font-style="italic" font-weight="bold">E</text>
<text x="815" y="154.4" font-size="10.4" fill="#222" text-anchor="middle" font-family="Liberation Serif, serif" font-style="italic" font-weight="bold">S</text>
</g>
</svg>
</body></html>
